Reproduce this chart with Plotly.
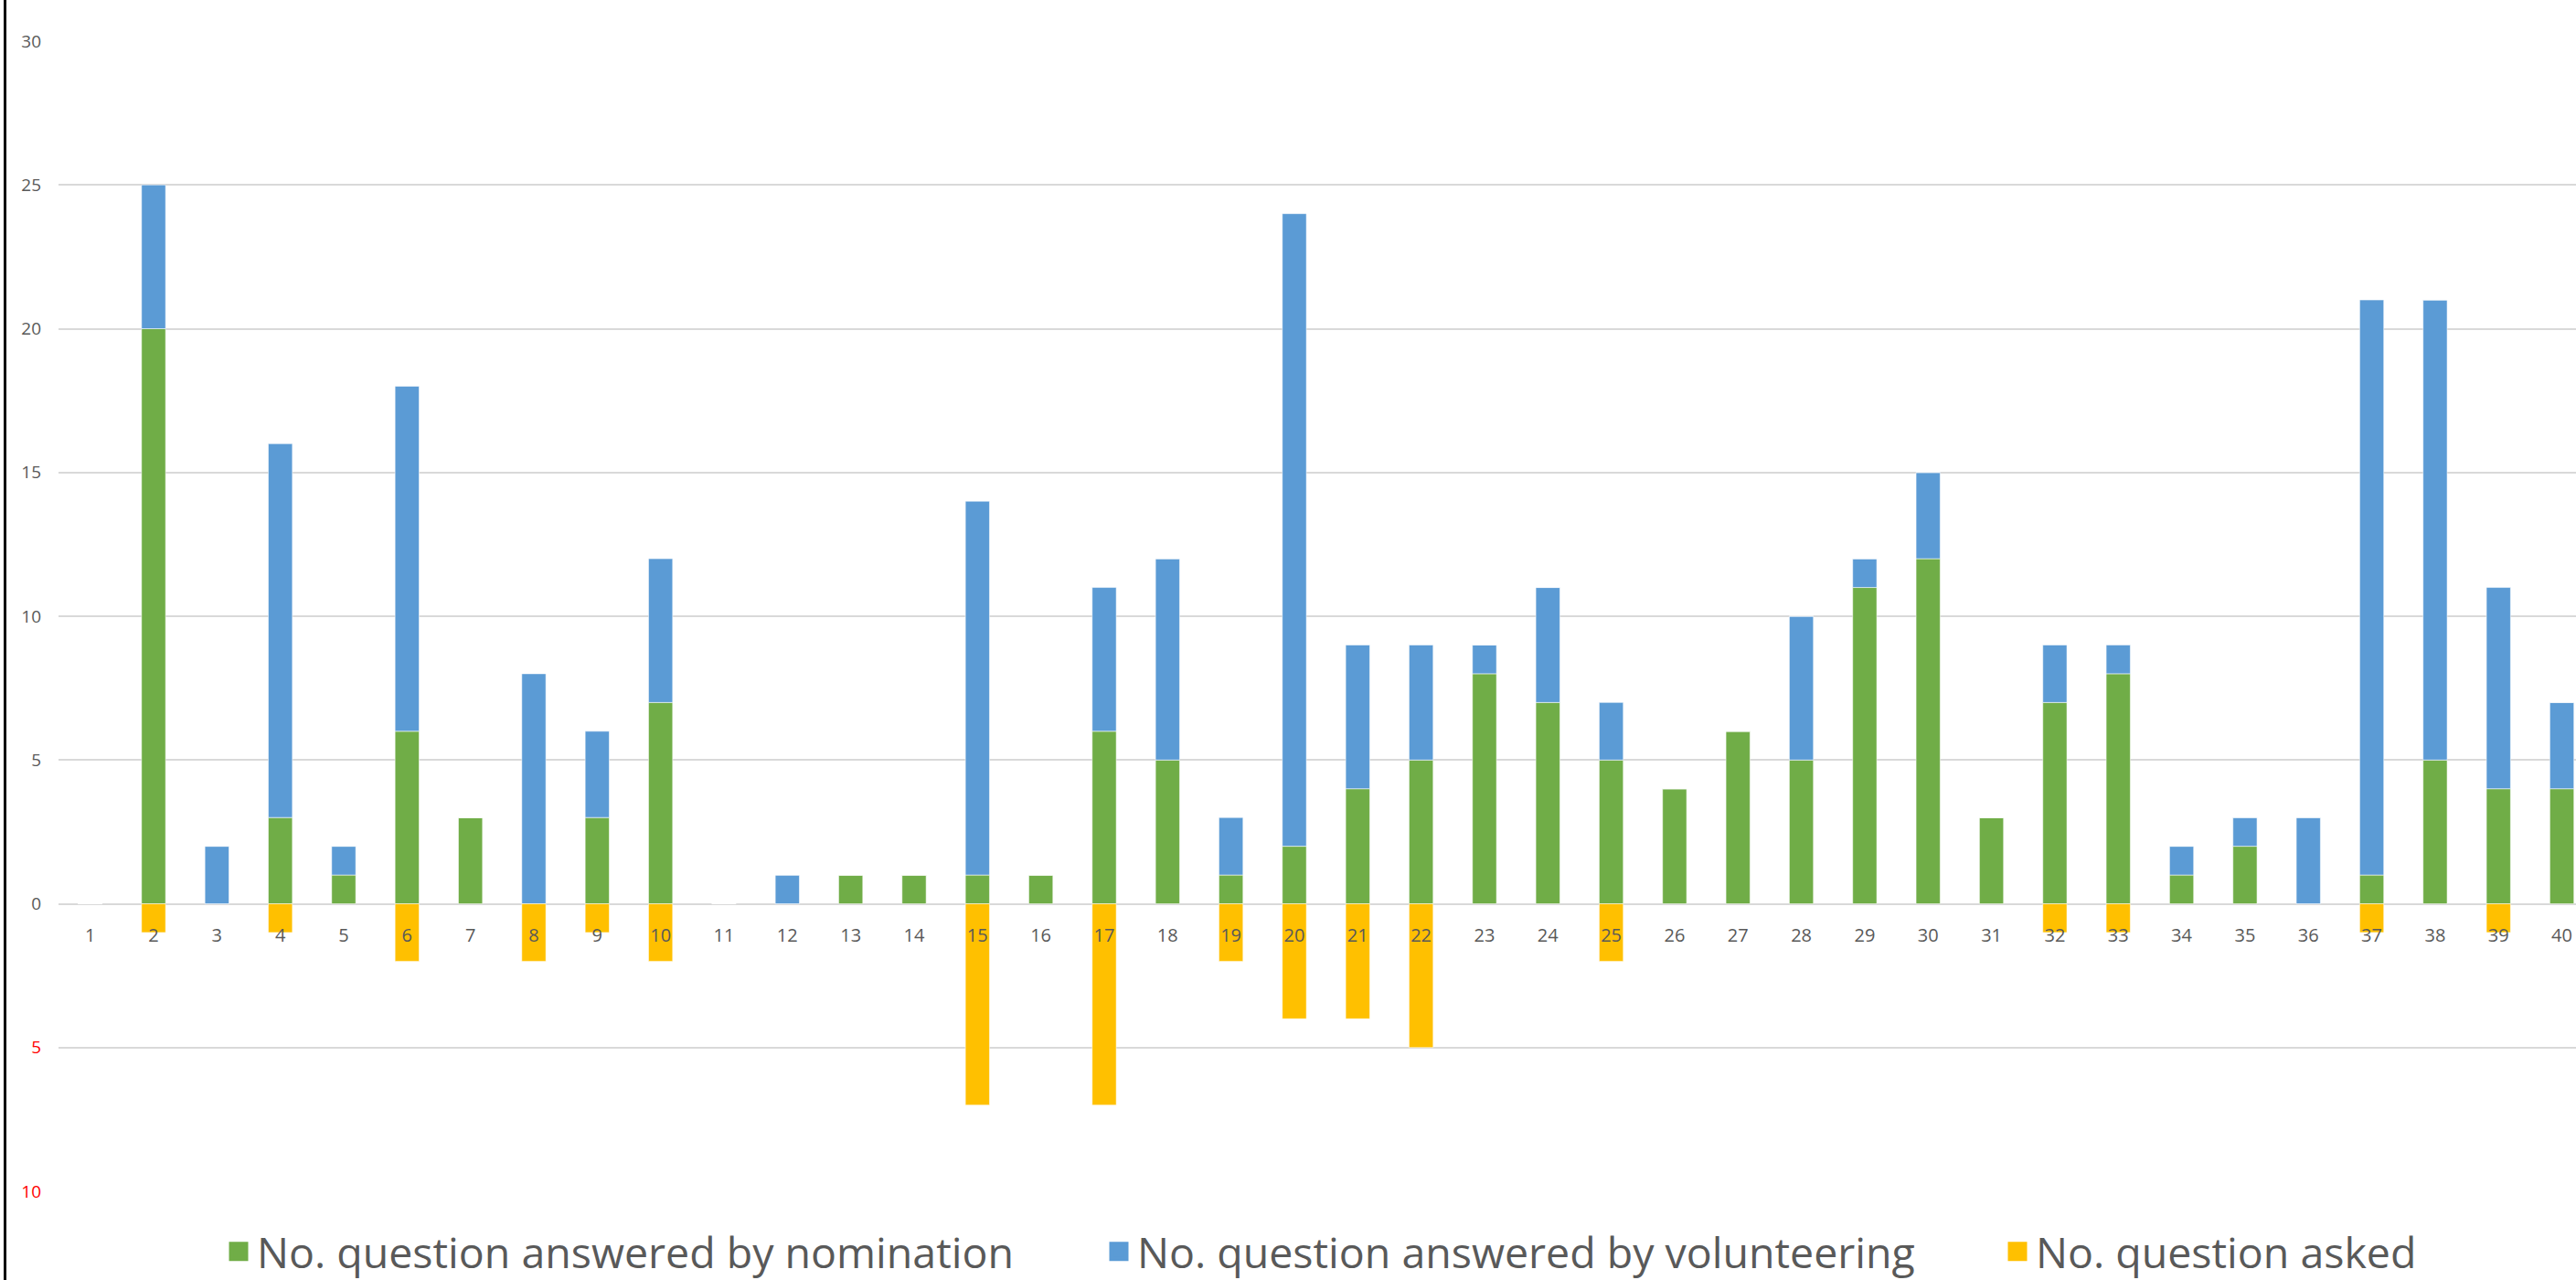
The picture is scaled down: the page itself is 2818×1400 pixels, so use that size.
import plotly.graph_objects as go

# ---------------- data ----------------
categories = ["1", "2", "3", "4", "5", "6", "7", "8", "9", "10",
              "11", "12", "13", "14", "15", "16", "17", "18", "19", "20",
              "21", "22", "23", "24", "25", "26", "27", "28", "29", "30",
              "31", "32", "33", "34", "35", "36", "37", "38", "39", "40"]
nomination = [0, 20, 0, 3, 1, 6, 3, 0, 3, 7,
              0, 0, 1, 1, 1, 1, 6, 5, 1, 2,
              4, 5, 8, 7, 5, 4, 6, 5, 11, 12,
              3, 7, 8, 1, 2, 0, 1, 5, 4, 4]
volunteering = [0, 5, 2, 13, 1, 12, 0, 8, 3, 5,
                0, 1, 0, 0, 13, 0, 5, 7, 2, 22,
                5, 4, 1, 4, 2, 0, 0, 5, 1, 3,
                0, 2, 1, 1, 1, 3, 20, 16, 7, 3]
asked = [0, 1, 0, 1, 0, 2, 0, 2, 1, 2,
         0, 0, 0, 0, 7, 0, 7, 0, 2, 4,
         4, 5, 0, 0, 2, 0, 0, 0, 0, 0,
         0, 1, 1, 0, 0, 0, 1, 0, 1, 0]
y_tick_values = [-10, -5, 0, 5, 10, 15, 20, 25, 30]
y_tick_labels = ["10", "5", "0", "5", "10", "15", "20", "25", "30"]

series_names = ["No. question answered by nomination",
                "No. question answered by volunteering",
                "No. question asked"]

# ---------------- style ----------------
W, H = 2818, 1400
ML, MR, MT, MB = 64, 0, 45, 97
GREEN, BLUE, GOLD = "#70AD47", "#5B9BD5", "#FFC000"
GREY = "#595959"
FONT = "Open Sans, Liberation Sans, sans-serif"
Y_MIN, Y_MAX = -10, 30
CAT_PX = 69.33  # pixel pitch of one category in the reference
plot_w = W - ML - MR
plot_h = H - MT - MB
x_hi = -0.5 + plot_w / CAT_PX  # last category partially clipped as in reference

legend_ids = ["legend", "legend2", "legend3"]
legend_left_px = [241, 1204, 2187]
legend_y = -(1369 - (H - MB)) / plot_h

fig = go.Figure()
line_style = dict(width=1, color="rgba(255,255,255,0.55)")

for name, vals, col, lg in [(series_names[0], nomination, GREEN, legend_ids[0]),
                            (series_names[1], volunteering, BLUE, legend_ids[1]),
                            (series_names[2], [-v for v in asked], GOLD, legend_ids[2])]:
    fig.add_trace(go.Bar(x=categories, y=vals, name=name, legendgroup=name,
                         showlegend=False, width=0.38,
                         marker=dict(color=col, line=line_style)))
    # legend entry (larger square swatch)
    fig.add_trace(go.Scatter(x=[None], y=[None], name=name, legendgroup=name,
                             mode="markers", showlegend=True, legend=lg,
                             marker=dict(symbol="square", size=16, color=col,
                                         line=dict(width=5, color=col))))

tick_text = []
for v, t in zip(y_tick_values, y_tick_labels):
    if v < 0:
        tick_text.append(f"<span style='color:#FF0000'>{t}</span>")
    else:
        tick_text.append(t)

zero_pos = (0 - Y_MIN) / (Y_MAX - Y_MIN)

legend_common = dict(orientation="h", xanchor="left", yanchor="middle",
                     y=legend_y, font=dict(size=46.5, color=GREY, family=FONT),
                     bgcolor="rgba(0,0,0,0)", borderwidth=0)
legends = {}
for lg, px in zip(legend_ids, legend_left_px):
    legends[lg] = dict(legend_common, x=(px - ML) / plot_w)

fig.update_layout(
    width=W, height=H,
    margin=dict(l=ML, r=MR, t=MT, b=MB, pad=0, autoexpand=False),
    paper_bgcolor="white", plot_bgcolor="white",
    barmode="relative",
    font=dict(family=FONT, color=GREY, size=19),
    showlegend=True,
    xaxis=dict(type="category", categoryorder="array", categoryarray=categories,
               range=[-0.5, x_hi], anchor="free", position=zero_pos,
               showgrid=False, zeroline=False, showline=False, ticks="",
               tickfont=dict(size=20, color=GREY, family=FONT),
               ticklabelstandoff=20, automargin=False),
    yaxis=dict(range=[Y_MIN, Y_MAX], tickmode="array", tickvals=y_tick_values,
               ticktext=tick_text, showgrid=True, gridcolor="#D9D9D9",
               gridwidth=2, zeroline=False, showline=False, ticks="",
               tickfont=dict(size=19, color=GREY, family=FONT),
               ticklabelstandoff=18, automargin=False),
    **legends,
)

# chart-area left border
fig.add_shape(type="line", xref="paper", yref="paper",
              x0=(5.5 - ML) / plot_w, x1=(5.5 - ML) / plot_w,
              y0=-MB / plot_h - 0.01, y1=1 + MT / plot_h + 0.01,
              line=dict(color="black", width=3))

fig.write_html("out.html",
               config={"displayModeBar": False},
               post_script="document.body.style.margin='0';")
